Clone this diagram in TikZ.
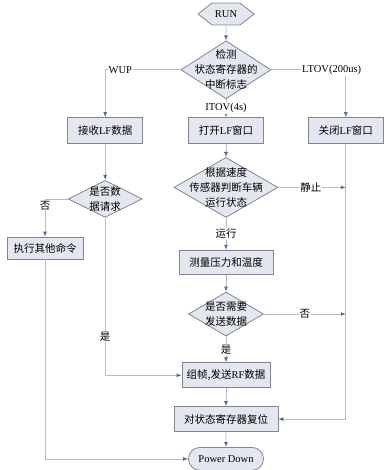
\documentclass[tikz,border=0pt]{standalone}
\usepackage{fontspec}
\setmainfont{Liberation Serif}
\newfontfamily\cjk{Noto Sans CJK SC}
\usetikzlibrary{arrows.meta,positioning,shapes.geometric,shapes.misc,shapes.symbols}
\definecolor{boxbg}{HTML}{E4E7EF}
\definecolor{frame}{HTML}{80858F}
\definecolor{wire}{HTML}{B4BCCB}
\definecolor{tipc}{HTML}{5A6898}

\begin{document}
\begin{tikzpicture}[x=1pt,y=-1pt,every node/.style={font=\fontsize{10.5}{15}\selectfont},
  box/.style={draw=frame,fill=boxbg,line width=0.8pt,inner sep=0pt,minimum height=25pt},
  decide/.style={draw=frame,fill=boxbg,line width=0.8pt,diamond,inner sep=-20pt,align=center,font=\cjk\fontsize{10.5}{15}\selectfont},
  link/.style={wire,line width=0.8pt,-{Latex[length=5pt,width=4pt,color=tipc]}},
  lbl/.style={fill=white,text=black,inner sep=1pt}]
\useasboundingbox (0,0) rectangle (388,470);
\node[signal,signal to=west and east,signal pointer angle=76,draw=frame,fill=boxbg,line width=0.8pt,minimum width=56pt,minimum height=22pt,inner sep=0pt] (run) at (226,14) {RUN};
\node[decide,minimum width=90pt,minimum height=58pt,below=15pt of run] (d1) {检测\\状态寄存器的\\中断标志};
\node[box,minimum width=75pt,minimum height=26pt,below=18pt of d1] (b2) {{\cjk 打开}LF{\cjk 窗口}};
\node[box,minimum width=75pt,minimum height=26pt,left=45pt of b2] (b1) {{\cjk 接收}LF{\cjk 数据}};
\node[box,minimum width=75pt,minimum height=26pt,right=44pt of b2] (b3) {{\cjk 关闭}LF{\cjk 窗口}};
\node[decide,minimum width=74pt,minimum height=37pt,below=36pt of b1] (d2) {是否数\\据请求};
\node[box,minimum width=76pt,minimum height=22pt] (b4) at (45,248) {{\cjk 执行其他命令}};
\node[decide,minimum width=104pt,minimum height=60pt,below=13pt of b2] (d3) {根据速度\\传感器判断车辆\\运行状态};
\node[box,minimum width=94pt,minimum height=24pt,below=32pt of d3] (bm) {{\cjk 测量压力和温度}};
\node[decide,minimum width=75pt,minimum height=44pt,below=17pt of bm] (d4) {是否需要\\发送数据};
\node[box,minimum width=88pt,below=26pt of d4] (rf) {{\cjk 组帧,发送}RF{\cjk 数据}};
\node[box,minimum width=104pt,below=18pt of rf] (rst) {{\cjk 对状态寄存器复位}};
\node[rounded rectangle,draw=frame,fill=boxbg,line width=0.8pt,minimum width=75pt,minimum height=23pt,inner sep=0pt,below=15pt of rst] (pd) {Power Down};
\coordinate (s1) at (d3.east -| b3.south);
\coordinate (s2) at (d4.east -| b3.south);
% connectors
\draw[link] (run)--(d1);
\draw[link] (d1.west) -| node[lbl,pos=0.4]{WUP} (b1.north);
\draw[link] (d1.east) -| node[lbl,pos=0.405]{LTOV(200us)} (b3.north);
\draw[link] (d1)-- node[lbl]{ITOV(4s)} (b2);
\draw[link] (b1)--(d2);
\draw[link] (d2.west) -| node[lbl,pos=0.585]{{\cjk 否}} (b4.north);
\draw[link] (b4.south) |- (pd.west);
\draw[link] (d2.south) |- node[lbl,pos=0.376]{{\cjk 是}} (rf.west);
\draw[link] (b2)--(d3);
\draw[link] (d3.east)-- node[lbl,pos=0.48]{{\cjk 静止}} (s1);
\draw[link] (d3)-- node[lbl]{{\cjk 运行}} (bm);
\draw[link] (bm)--(d4);
\draw[link] (d4.east)-- node[lbl]{{\cjk 否}} (s2);
\draw[link] (d4)-- node[lbl]{{\cjk 是}} (rf);
\draw[link] (rf)--(rst);
\draw[link] (b3.south) |- (rst.east);
\draw[link] (rst)--(pd);
\end{tikzpicture}
\end{document}
